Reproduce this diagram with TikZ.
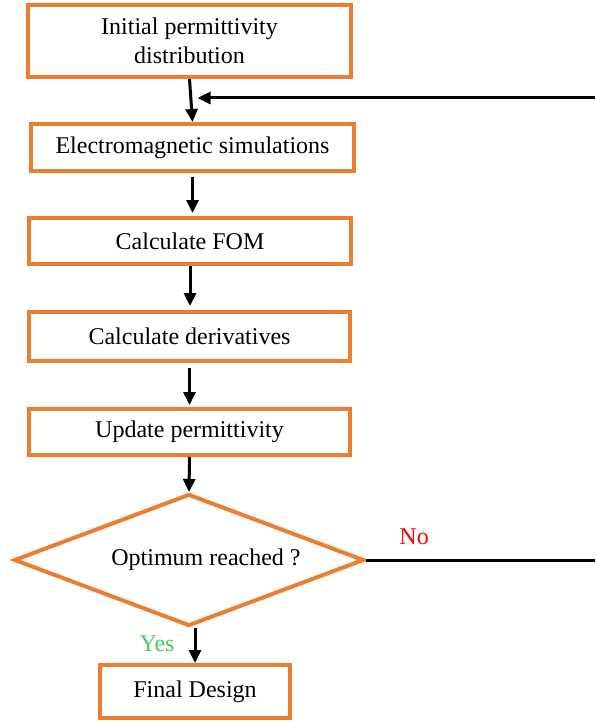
\documentclass[tikz,border=0pt]{standalone}
\usepackage{fontspec}
\setmainfont{Liberation Serif}
\usepackage{tikz}
\usetikzlibrary{arrows.meta,shapes.geometric}
\definecolor{boxorange}{HTML}{ED7D31}
\definecolor{noRed}{HTML}{FF0000}
\definecolor{yesGreen}{HTML}{4CC65C}

\begin{document}
\begin{tikzpicture}[x=1pt,y=-1pt,
  font=\fontsize{24}{29}\selectfont,
  stage/.style={draw=boxorange, line width=4pt, inner sep=0pt, align=center},
  decision/.style={diamond, aspect=2.6, draw=boxorange, line width=4pt, inner sep=0pt,
    minimum width=350pt, minimum height=132pt},
  flow/.style={-{Triangle[length=13pt,width=12pt]}, line width=3pt}]
\useasboundingbox (0,0) rectangle (595,722);
% loop steps
\node[stage, minimum width=323pt, minimum height=72pt] (init) at (189.5,41) {Initial permittivity\\distribution};
\node[stage, minimum width=323pt, minimum height=47pt] (emsim) at (192.5,147.5) {Electromagnetic simulations};
\node[stage, minimum width=322pt, minimum height=46pt] (fom) at (190,241) {Calculate FOM};
\node[stage, minimum width=321pt, minimum height=49pt] (deriv) at (189.5,336.5) {Calculate derivatives};
\node[stage, minimum width=321pt, minimum height=46pt] (update) at (189.5,432) {Update permittivity};
\node[decision] (optim) at (189,560) {\hspace*{34pt}Optimum reached ?};
\node[stage, minimum width=190pt, minimum height=53pt] (final) at (195,691.5) {Final Design};
% feedback ends (cut at the right edge)
\coordinate (noend) at (595,560);
\coordinate (backin) at (595,98);
% arrows
\draw[flow] (init.south) -- (emsim.north);
\draw[flow, shorten <=4pt, shorten >=3pt] (emsim.south) -- (emsim.south |- fom.north);
\draw[flow, shorten >=4pt] (fom.south) -- (fom.south |- deriv.north);
\draw[flow, shorten <=5pt, shorten >=2pt] (deriv.south) -- (deriv.south |- update.north);
\draw[flow] (update.south) -- (optim.north);
\draw[flow] (final.north |- optim.south) -- (final.north)
  node[pos=0.46, left=15pt, inner sep=4pt, text=yesGreen] {Yes};
\draw[line width=3pt] (optim.east) -- (noend)
  node[pos=0.21, yshift=23pt, text=noRed] {No};
\draw[flow, shorten >=8pt] (backin) -- (backin -| init.south);
\end{tikzpicture}
\end{document}
